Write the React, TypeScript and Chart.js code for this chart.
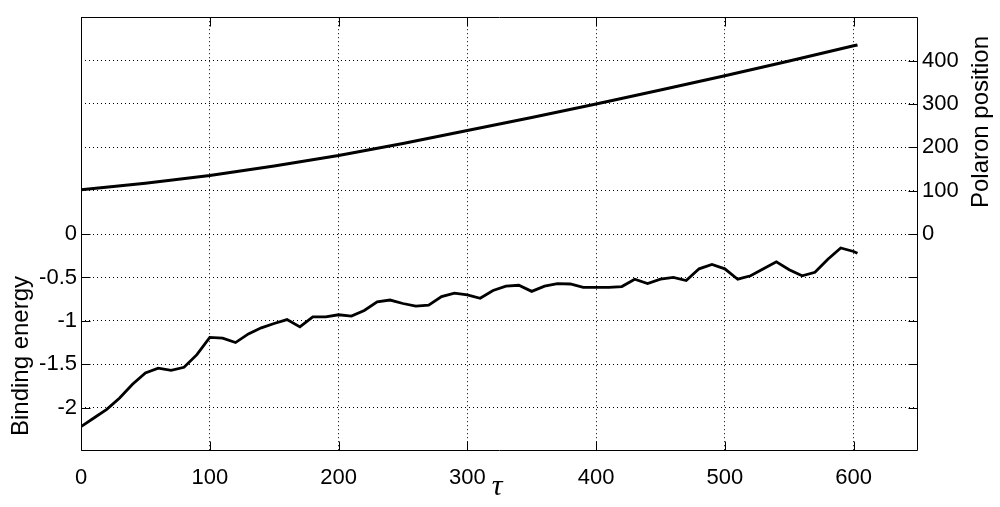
import React, { useEffect, useRef } from 'react';
import { Chart, registerables } from 'chart.js';

Chart.register(...registerables);

// time axis (tau) for the binding energy series
const tauValues = [
  0, 10, 20, 30, 40, 50, 60, 70, 80, 90,
  100, 110, 120, 130, 140, 150, 160, 170, 180, 190,
  200, 210, 220, 230, 240, 250, 260, 270, 280, 290,
  300, 310, 320, 330, 340, 350, 360, 370, 380, 390,
  400, 410, 420, 430, 440, 450, 460, 470, 480, 490,
  500, 510, 520, 530, 540, 550, 560, 570, 580, 590,
  600, 603,
];

const bindingEnergy = [
  -2.22, -2.12, -2.02, -1.89, -1.73, -1.6, -1.545, -1.57, -1.535, -1.39,
  -1.19, -1.2, -1.25, -1.15, -1.08, -1.03, -0.985, -1.07, -0.955, -0.955,
  -0.93, -0.945, -0.88, -0.78, -0.76, -0.8, -0.83, -0.82, -0.72, -0.68,
  -0.7, -0.74, -0.65, -0.6, -0.59, -0.66, -0.6, -0.57, -0.575, -0.615,
  -0.615, -0.615, -0.605, -0.52, -0.57, -0.52, -0.5, -0.535, -0.4, -0.35,
  -0.4, -0.52, -0.48, -0.4, -0.32, -0.41, -0.48, -0.44, -0.29, -0.16,
  -0.2, -0.22,
];

// time axis (tau) for the polaron position series
const positionTimes = [0, 50, 100, 150, 200, 250, 300, 350, 400, 450, 500, 550, 600, 603];
const polaronPosition = [102, 117, 135, 157, 181, 209, 239, 269, 300, 332, 365, 399, 434, 436];

const xTicks = [0, 100, 200, 300, 400, 500, 600];
const leftTickLabels = [-2, -1.5, -1, -0.5, 0];
const leftGridValues = [-2, -1.5, -1, -0.5, 0, 0.5, 1, 1.5, 2];
const rightTicks = [0, 100, 200, 300, 400];

const X_MIN = 0;
const X_MAX = 650;
const LEFT_MIN = -2.5;
const LEFT_MAX = 2.5;
const RIGHT_MIN = -500;
const RIGHT_MAX = 500;

const FONT = '"Liberation Sans", Arial, Helvetica, sans-serif';

const framePlugin = {
  id: 'matlabFrame',
  afterDraw(chart: any) {
    const { ctx, chartArea } = chart;
    const { left, right, top, bottom } = chartArea;
    const xs = chart.scales.x;
    const yl = chart.scales.yLeft;
    const yr = chart.scales.yRight;
    const TL = 9;
    ctx.save();
    ctx.strokeStyle = '#000';
    ctx.lineWidth = 1;
    ctx.setLineDash([]);
    const L = Math.round(left) + 0.5;
    const R = Math.round(right) - 0.5;
    const T = Math.round(top) + 0.5;
    const B = Math.round(bottom) - 0.5;
    ctx.beginPath();
    ctx.rect(L, T, R - L, B - T);
    // x ticks (bottom & top, inward)
    xTicks.forEach((v) => {
      const p = Math.round(xs.getPixelForValue(v)) + 0.5;
      ctx.moveTo(p, B);
      ctx.lineTo(p, B - TL);
      ctx.moveTo(p, T);
      ctx.lineTo(p, T + TL);
    });
    // left ticks, mirrored on right
    leftTickLabels.forEach((v) => {
      const p = Math.round(yl.getPixelForValue(v)) + 0.5;
      ctx.moveTo(L, p);
      ctx.lineTo(L + TL, p);
      ctx.moveTo(R, p);
      ctx.lineTo(R - TL, p);
    });
    // right ticks
    rightTicks.forEach((v) => {
      const p = Math.round(yr.getPixelForValue(v)) + 0.5;
      ctx.moveTo(R, p);
      ctx.lineTo(R - TL, p);
    });
    ctx.stroke();

    // axis titles
    ctx.fillStyle = '#000';
    ctx.font = `24px ${FONT}`;
    ctx.textAlign = 'center';
    ctx.textBaseline = 'middle';
    ctx.save();
    ctx.translate(21, 356);
    ctx.rotate(-Math.PI / 2);
    ctx.fillText('Binding energy', 0, 0);
    ctx.restore();
    ctx.save();
    ctx.translate(981, 122);
    ctx.rotate(-Math.PI / 2);
    ctx.fillText('Polaron position', 0, 0);
    ctx.restore();

    ctx.font = `italic 30px "Liberation Serif", "DejaVu Serif", serif`;
    ctx.fillText('τ', 497, 487);
    ctx.restore();
  },
};

export default function App() {
  const canvasRef = useRef<HTMLCanvasElement | null>(null);

  useEffect(() => {
    const canvas = canvasRef.current;
    if (!canvas) return;
    const energyData = tauValues.map((t, i) => ({ x: t, y: bindingEnergy[i] }));
    const posData = positionTimes.map((t, i) => ({ x: t, y: polaronPosition[i] }));

    const chart = new Chart(canvas, {
      type: 'line',
      data: {
        datasets: [
          {
            label: 'Polaron position',
            data: posData,
            yAxisID: 'yRight',
            borderColor: '#000',
            borderWidth: 3,
            pointRadius: 0,
            tension: 0,
            fill: false,
          },
          {
            label: 'Binding energy',
            data: energyData,
            yAxisID: 'yLeft',
            borderColor: '#000',
            borderWidth: 2.8,
            pointRadius: 0,
            tension: 0,
            fill: false,
          },
        ],
      },
      options: {
        responsive: false,
        animation: false,
        layout: { padding: { top: 11, left: 0, right: 0, bottom: 0 } },
        plugins: {
          legend: { display: false },
          tooltip: { enabled: false },
          title: { display: false },
        },
        scales: {
          x: {
            type: 'linear',
            position: 'bottom',
            min: X_MIN,
            max: X_MAX,
            afterBuildTicks: (scale: any) => {
              scale.ticks = xTicks.map((v) => ({ value: v }));
            },
            afterFit: (scale: any) => {
              scale.height = 56;
            },
            ticks: {
              color: '#000',
              font: { family: FONT, size: 22 },
              padding: 14,
              maxRotation: 0,
              autoSkip: false,
              callback: (v: any) => String(v),
            },
            grid: {
              color: '#000',
              lineWidth: 1,
              drawTicks: false,
            },
            border: { display: false, dash: [1, 3] },
          },
          yLeft: {
            type: 'linear',
            position: 'left',
            min: LEFT_MIN,
            max: LEFT_MAX,
            afterBuildTicks: (scale: any) => {
              scale.ticks = leftGridValues.map((v) => ({ value: v }));
            },
            afterFit: (scale: any) => {
              scale.width = 81;
            },
            ticks: {
              color: '#000',
              font: { family: FONT, size: 22 },
              padding: 4,
              autoSkip: false,
              callback: (v: any) => (leftTickLabels.includes(v) ? String(v) : ''),
            },
            grid: {
              color: '#000',
              lineWidth: 1,
              drawTicks: false,
            },
            border: { display: false, dash: [1, 3] },
          },
          yRight: {
            type: 'linear',
            position: 'right',
            min: RIGHT_MIN,
            max: RIGHT_MAX,
            afterBuildTicks: (scale: any) => {
              scale.ticks = rightTicks.map((v) => ({ value: v }));
            },
            afterFit: (scale: any) => {
              scale.width = 82;
            },
            ticks: {
              color: '#000',
              font: { family: FONT, size: 22 },
              padding: 4,
              autoSkip: false,
              callback: (v: any) => String(v),
            },
            grid: { display: false, drawTicks: false },
            border: { display: false },
          },
        },
      },
      plugins: [framePlugin],
    } as any);

    return () => chart.destroy();
  }, []);

  return (
    <div style={{ position: 'fixed', left: 0, top: 0, width: 1000, height: 507, background: '#fff' }}>
      <canvas ref={canvasRef} width={1000} height={507} style={{ display: 'block' }} />
    </div>
  );
}
